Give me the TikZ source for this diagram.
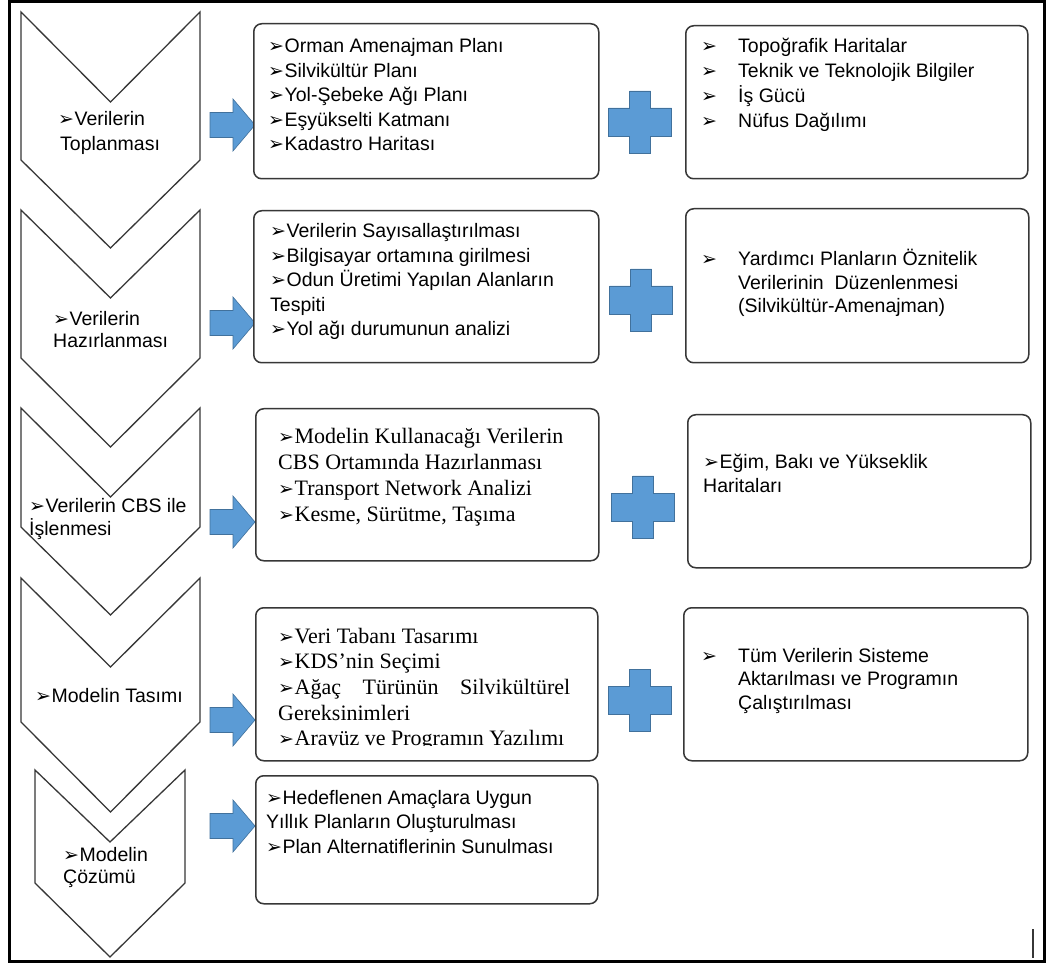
\documentclass[tikz,border=0pt]{standalone}
\usepackage{fontspec}
\setmainfont{Liberation Sans}
\newfontfamily\serifface{Liberation Serif}
\newfontfamily\dingfont{DejaVu Sans}
\definecolor{arrowblue}{RGB}{91,155,213}
\definecolor{arrowedge}{RGB}{65,113,156}
\definecolor{edgegray}{RGB}{55,55,55}
% arrowhead bullet used in every list
\newcommand\bul{{\dingfont\fontsize{19}{19}\selectfont ➢}\kern0.5pt}
\newcommand\sanstext{\fontsize{19.5}{24.5}\selectfont}
\newcommand\seriftext{\serifface\fontsize{22}{25.7}\selectfont}
% blue block arrow pointing right, centred at height #1
\newcommand\bluearrow[1]{%
  \draw[blockarrow] (210,#1-12.5) -- (233,#1-12.5) -- (233,#1-26) -- (255,#1)
    -- (233,#1+26) -- (233,#1+12.5) -- (210,#1+12.5) -- cycle;}
% blue plus sign centred at (#1,#2)
\newcommand\bluecross[2]{%
  \draw[blockarrow] (#1-10.5,#2-31) -- (#1+10.5,#2-31) -- (#1+10.5,#2-14) -- (#1+31.5,#2-14)
    -- (#1+31.5,#2+14) -- (#1+10.5,#2+14) -- (#1+10.5,#2+31) -- (#1-10.5,#2+31)
    -- (#1-10.5,#2+14) -- (#1-31.5,#2+14) -- (#1-31.5,#2-14) -- (#1-10.5,#2-14) -- cycle;}
\tikzset{
  chev/.style={draw=edgegray, line width=1.3pt, line join=miter},
  panel/.style={draw=edgegray, line width=1.5pt, rounded corners=8pt, fill=white,
    inner sep=0pt, anchor=north west},
  blockarrow/.style={fill=arrowblue, draw=arrowedge, line width=0.6pt},
  txt/.style={inner sep=0pt, anchor=base west, font=\sanstext},
  serif txt/.style={inner sep=0pt, anchor=base west, font=\seriftext},
}
\begin{document}
\begin{tikzpicture}[x=1pt,y=-1pt]
\useasboundingbox (0,0) rectangle (1050,965);
\fill[white] (0,0) rectangle (1050,965);

% outer frame
\draw[line width=2.7pt] (9.7,1.5) rectangle (1044.5,961.5);
\draw[edgegray, line width=1.5pt] (1033,929) -- (1033,958);

% process chevrons
\draw[chev] (21,12) -- (110.5,102) -- (200,12) -- (200,160) -- (110.5,248) -- (21,160) -- cycle;
\draw[chev] (21,210) -- (110.5,298) -- (200,210) -- (200,358) -- (110.5,447) -- (21,358) -- cycle;
\draw[chev] (21,408) -- (110.5,497) -- (200,408) -- (200,527) -- (110.5,615) -- (21,527) -- cycle;
\draw[chev] (21,578) -- (110.5,667) -- (200,578) -- (200,722) -- (110.5,812) -- (21,722) -- cycle;
\draw[chev] (35,770) -- (110,842) -- (185,770) -- (185,883) -- (110,957) -- (35,883) -- cycle;

\node[txt] (c1) at (58,126) {\vtop{\hbox{\bul Verilerin}\hbox{\kern2pt Toplanması}}};
\node[txt] (c2) at (53,326) {\vtop{\baselineskip=22pt\hbox{\bul Verilerin}\hbox{Hazırlanması}}};
\node[txt] (c3) at (29,512) {\vtop{\baselineskip=23pt\hbox{\bul Verilerin CBS ile}\hbox{İşlenmesi}}};
\node[txt] (c4) at (35,702) {\bul Modelin Tasımı};
\node[txt] (c5) at (63,861) {\vtop{\baselineskip=22pt\hbox{\bul Modelin}\hbox{Çözümü}}};

% block arrows
\bluearrow{125}
\bluearrow{323}
\bluearrow{522}
\bluearrow{720}
\bluearrow{826}

% plus signs
\bluecross{640}{122}
\bluecross{641}{300}
\bluecross{643}{507}
\bluecross{640}{700}

% left column panels
\node[panel, minimum width=345pt, minimum height=155pt] (b1) at (253,23) {};
\node[panel, minimum width=345pt, minimum height=152pt] (b2) at (253,210) {};
\node[panel, minimum width=343pt, minimum height=152pt] (b3) at (255,408) {};
\node[panel, minimum width=342pt, minimum height=153pt] (b4) at (255,607) {};
\node[panel, minimum width=342pt, minimum height=128pt] (b5) at (255,775) {};

% right column panels
\node[panel, minimum width=342pt, minimum height=153pt] (r1) at (685,25) {};
\node[panel, minimum width=343pt, minimum height=154pt] (r2) at (685,208) {};
\node[panel, minimum width=343pt, minimum height=153pt] (r3) at (687,414) {};
\node[panel, minimum width=344pt, minimum height=153pt] (r4) at (683,607) {};

% panel texts
\node[txt] (b1t) at (268,53) {\vtop{%
  \hbox{\bul Orman Amenajman Planı}
  \hbox{\bul Silvikültür Planı}
  \hbox{\bul Yol-Şebeke Ağı Planı}
  \hbox{\bul Eşyükselti Katmanı}
  \hbox{\bul Kadastro Haritası}}};

\node[txt] (b2t) at (270,238) {\vtop{%
  \hbox{\bul Verilerin Sayısallaştırılması}
  \hbox{\bul Bilgisayar ortamına girilmesi}
  \hbox{\bul Odun Üretimi Yapılan Alanların}
  \hbox{Tespiti}
  \hbox{\bul Yol ağı durumunun analizi}}};

\node[serif txt] (b3t) at (278,444) {\vtop{%
  \hbox{\bul Modelin Kullanacağı Verilerin}
  \hbox{CBS Ortamında Hazırlanması}
  \hbox{\bul Transport Network Analizi}
  \hbox{\bul Kesme, Sürütme, Taşıma}}};

\begin{scope}
  \clip (250,600) rectangle (600,745.5);
  \node[serif txt] (b4t) at (278,643) {\vtop{%
    \hbox{\bul Veri Tabanı Tasarımı}
    \hbox{\bul KDS’nin Seçimi}
    \hbox to 292pt{\bul Ağaç\hfill Türünün\hfill Silvikültürel}
    \hbox{Gereksinimleri}
    \hbox{\bul Arayüz ve Programın Yazılımı}}};
\end{scope}

\node[txt] (b5t) at (266,804) {\vtop{%
  \hbox{\bul Hedeflenen Amaçlara Uygun}
  \hbox{Yıllık Planların Oluşturulması}
  \hbox{\bul Plan Alternatiflerinin Sunulması}}};

\node[txt] (r1t) at (701,53) {\vtop{\baselineskip=24.7pt
  \hbox{\makebox[37pt][l]{\bul}Topoğrafik Haritalar}
  \hbox{\makebox[37pt][l]{\bul}Teknik ve Teknolojik Bilgiler}
  \hbox{\makebox[37pt][l]{\bul}İş Gücü}
  \hbox{\makebox[37pt][l]{\bul}Nüfus Dağılımı}}};

\node[txt] (r2t) at (701,266) {\vtop{\baselineskip=23.5pt
  \hbox{\makebox[37pt][l]{\bul}Yardımcı Planların Öznitelik}
  \hbox{\hspace*{37pt}Verilerinin~~Düzenlenmesi}
  \hbox{\hspace*{37pt}(Silvikültür-Amenajman)}}};

\node[txt] (r3t) at (703,469) {\vtop{\baselineskip=24pt
  \hbox{\bul Eğim, Bakı ve Yükseklik}
  \hbox{Haritaları}}};

\node[txt] (r4t) at (701,662) {\vtop{\baselineskip=23.5pt
  \hbox{\makebox[37pt][l]{\bul}Tüm Verilerin Sisteme}
  \hbox{\hspace*{37pt}Aktarılması ve Programın}
  \hbox{\hspace*{37pt}Çalıştırılması}}};
\end{tikzpicture}
\end{document}
